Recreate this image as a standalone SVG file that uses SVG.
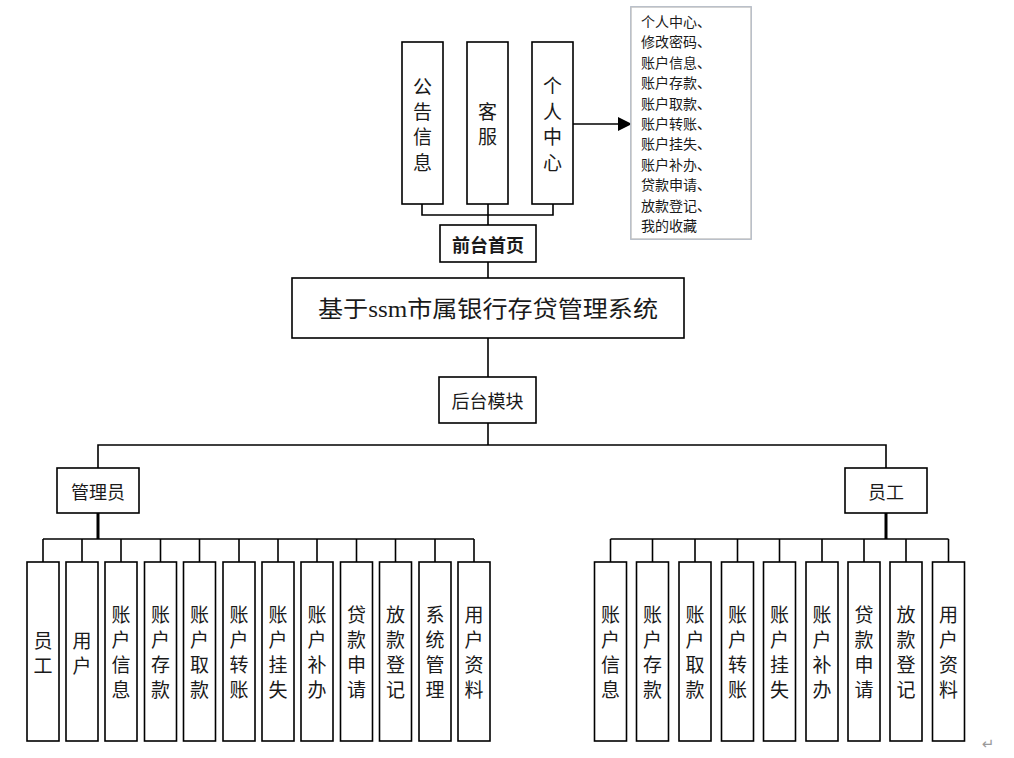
<svg xmlns="http://www.w3.org/2000/svg" width="1014" height="758" viewBox="0 0 1014 758">
<defs>
<filter id="sh" x="-20%" y="-20%" width="140%" height="140%">
<feGaussianBlur in="SourceAlpha" stdDeviation="2"/>
<feOffset dx="2" dy="2"/>
<feComponentTransfer><feFuncA type="linear" slope="0.25"/></feComponentTransfer>
<feFlood flood-color="#7f9fcf"/>
<feComposite operator="in" in2="SourceGraphic"/>
</filter>
<marker id="arr" markerWidth="14" markerHeight="14" refX="13" refY="7" orient="auto" markerUnits="userSpaceOnUse">
<path d="M0,0 L14,7 L0,14 Z" fill="#000"/>
</marker>
</defs>
<style>
.box{fill:#fff;stroke:#000;stroke-width:1.6}
.vbox{fill:#fff;stroke:#000;stroke-width:1.6}
.ln{fill:none;stroke:#000;stroke-width:1.6}
.thick{fill:none;stroke:#000;stroke-width:3}
.t{font-family:"Noto Sans CJK SC","Noto Sans",sans-serif;fill:#1a1a1a;text-anchor:middle;dominant-baseline:central}
.v{font-size:19px}
.h{font-size:18px}
.note{font-family:"Noto Sans CJK SC","Noto Sans",sans-serif;font-size:14px;fill:#1a1a1a}
</style>
<rect width="1014" height="758" fill="#fff"/>

<g id="connectors">
<polyline class="ln" points="422,204 422,215 553,215 553,204"/>
<line class="ln" x1="488" y1="204" x2="488" y2="225"/>
<line class="ln" x1="488" y1="262" x2="488" y2="278"/>
<line class="ln" x1="488" y1="338" x2="488" y2="377"/>
<line class="ln" x1="488" y1="423" x2="488" y2="445"/>
<polyline class="ln" points="98,468 98,445 886,445 886,468"/>
<line class="ln" x1="573" y1="124" x2="631" y2="124" marker-end="url(#arr)" stroke-width="2"/>
<line class="thick" x1="98" y1="513" x2="98" y2="539"/>
<line class="ln" x1="43" y1="539" x2="474" y2="539" stroke-width="2"/>
<g class="ln">
<line x1="43" y1="539" x2="43" y2="562"/><line x1="82" y1="539" x2="82" y2="562"/><line x1="121" y1="539" x2="121" y2="562"/><line x1="160.5" y1="539" x2="160.5" y2="562"/><line x1="199.5" y1="539" x2="199.5" y2="562"/><line x1="239" y1="539" x2="239" y2="562"/><line x1="278" y1="539" x2="278" y2="562"/><line x1="317" y1="539" x2="317" y2="562"/><line x1="356.5" y1="539" x2="356.5" y2="562"/><line x1="395.5" y1="539" x2="395.5" y2="562"/><line x1="435" y1="539" x2="435" y2="562"/><line x1="474" y1="539" x2="474" y2="562"/>
</g>
<line class="thick" x1="886" y1="513" x2="886" y2="539"/>
<line class="ln" x1="610.5" y1="539" x2="948.5" y2="539" stroke-width="2"/>
<g class="ln">
<line x1="610.5" y1="539" x2="610.5" y2="562"/><line x1="652.5" y1="539" x2="652.5" y2="562"/><line x1="695" y1="539" x2="695" y2="562"/><line x1="737.5" y1="539" x2="737.5" y2="562"/><line x1="779.5" y1="539" x2="779.5" y2="562"/><line x1="822" y1="539" x2="822" y2="562"/><line x1="864" y1="539" x2="864" y2="562"/><line x1="906" y1="539" x2="906" y2="562"/><line x1="948.5" y1="539" x2="948.5" y2="562"/>
</g>
</g>

<g id="n-gonggao"><rect class="vbox" x="402" y="42" width="41" height="162"/>
<text class="t v"><tspan x="422.5" y="85">公</tspan><tspan x="422.5" y="110">告</tspan><tspan x="422.5" y="135">信</tspan><tspan x="422.5" y="161">息</tspan></text></g>
<g id="n-kefu"><rect class="vbox" x="467" y="42" width="41" height="162"/>
<text class="t v"><tspan x="487.5" y="110">客</tspan><tspan x="487.5" y="135">服</tspan></text></g>
<g id="n-geren"><rect class="vbox" x="532" y="42" width="41" height="162"/>
<text class="t v"><tspan x="552.5" y="84">个</tspan><tspan x="552.5" y="110">人</tspan><tspan x="552.5" y="135">中</tspan><tspan x="552.5" y="161">心</tspan></text></g>

<g id="n-note"><rect x="631" y="7" width="120" height="232" fill="#fff" stroke="#c4c4c4" stroke-width="1.5" filter="url(#sh)"/>
<rect x="631" y="7" width="120" height="232" fill="#fff" stroke="#c4c4c4" stroke-width="1.5"/>
<text class="note" dominant-baseline="central">
<tspan x="641" y="21">个人中心、</tspan><tspan x="641" y="41.4">修改密码、</tspan><tspan x="641" y="61.8">账户信息、</tspan><tspan x="641" y="82.2">账户存款、</tspan><tspan x="641" y="102.6">账户取款、</tspan><tspan x="641" y="123">账户转账、</tspan><tspan x="641" y="143.4">账户挂失、</tspan><tspan x="641" y="163.8">账户补办、</tspan><tspan x="641" y="184.2">贷款申请、</tspan><tspan x="641" y="204.6">放款登记、</tspan><tspan x="641" y="225">我的收藏</tspan>
</text></g>

<g id="n-qiantai"><rect class="box" x="440" y="225" width="96" height="37"/>
<text class="t" x="488" y="243.5" font-size="18" font-weight="bold">前台首页</text></g>

<g id="n-title"><rect class="box" x="292" y="278" width="392" height="60"/>
<text class="t" x="488" y="309" font-size="23" textLength="340" lengthAdjust="spacingAndGlyphs" style="font-family:'Liberation Serif','Noto Sans CJK SC',serif">基于ssm市属银行存贷管理系统</text></g>

<g id="n-houtai"><rect class="box" x="439" y="377" width="97" height="46"/>
<text class="t h" x="487.5" y="400">后台模块</text></g>

<g id="n-admin"><rect class="box" x="57" y="468" width="82" height="45"/>
<text class="t h" x="98" y="490.5">管理员</text></g>
<g id="n-staff"><rect class="box" x="845" y="468" width="82" height="45"/>
<text class="t h" x="886" y="490.5">员工</text></g>

<g id="admin-children">
<g id="a1"><rect class="vbox" x="27" y="562" width="32" height="179"/><text class="t v"><tspan x="43" y="638.5">员</tspan><tspan x="43" y="664">工</tspan></text></g>
<g id="a2"><rect class="vbox" x="66" y="562" width="32" height="179"/><text class="t v"><tspan x="82" y="638.5">用</tspan><tspan x="82" y="664">户</tspan></text></g>
<g id="a3"><rect class="vbox" x="105" y="562" width="32" height="179"/><text class="t v"><tspan x="121" y="613">账</tspan><tspan x="121" y="638">户</tspan><tspan x="121" y="663">信</tspan><tspan x="121" y="688">息</tspan></text></g>
<g id="a4"><rect class="vbox" x="144.5" y="562" width="32" height="179"/><text class="t v"><tspan x="160.5" y="613">账</tspan><tspan x="160.5" y="638">户</tspan><tspan x="160.5" y="663">存</tspan><tspan x="160.5" y="688">款</tspan></text></g>
<g id="a5"><rect class="vbox" x="183.5" y="562" width="32" height="179"/><text class="t v"><tspan x="199.5" y="613">账</tspan><tspan x="199.5" y="638">户</tspan><tspan x="199.5" y="663">取</tspan><tspan x="199.5" y="688">款</tspan></text></g>
<g id="a6"><rect class="vbox" x="223" y="562" width="32" height="179"/><text class="t v"><tspan x="239" y="613">账</tspan><tspan x="239" y="638">户</tspan><tspan x="239" y="663">转</tspan><tspan x="239" y="688">账</tspan></text></g>
<g id="a7"><rect class="vbox" x="262" y="562" width="32" height="179"/><text class="t v"><tspan x="278" y="613">账</tspan><tspan x="278" y="638">户</tspan><tspan x="278" y="663">挂</tspan><tspan x="278" y="688">失</tspan></text></g>
<g id="a8"><rect class="vbox" x="301" y="562" width="32" height="179"/><text class="t v"><tspan x="317" y="613">账</tspan><tspan x="317" y="638">户</tspan><tspan x="317" y="663">补</tspan><tspan x="317" y="688">办</tspan></text></g>
<g id="a9"><rect class="vbox" x="340.5" y="562" width="32" height="179"/><text class="t v"><tspan x="356.5" y="613">贷</tspan><tspan x="356.5" y="638">款</tspan><tspan x="356.5" y="663">申</tspan><tspan x="356.5" y="688">请</tspan></text></g>
<g id="a10"><rect class="vbox" x="379.5" y="562" width="32" height="179"/><text class="t v"><tspan x="395.5" y="613">放</tspan><tspan x="395.5" y="638">款</tspan><tspan x="395.5" y="663">登</tspan><tspan x="395.5" y="688">记</tspan></text></g>
<g id="a11"><rect class="vbox" x="419" y="562" width="32" height="179"/><text class="t v"><tspan x="435" y="613">系</tspan><tspan x="435" y="638">统</tspan><tspan x="435" y="663">管</tspan><tspan x="435" y="688">理</tspan></text></g>
<g id="a12"><rect class="vbox" x="458" y="562" width="32" height="179"/><text class="t v"><tspan x="474" y="613">用</tspan><tspan x="474" y="638">户</tspan><tspan x="474" y="663">资</tspan><tspan x="474" y="688">料</tspan></text></g>
</g>

<g id="staff-children">
<g id="s1"><rect class="vbox" x="594.5" y="562" width="32" height="179"/><text class="t v"><tspan x="610.5" y="613">账</tspan><tspan x="610.5" y="638">户</tspan><tspan x="610.5" y="663">信</tspan><tspan x="610.5" y="688">息</tspan></text></g>
<g id="s2"><rect class="vbox" x="636.5" y="562" width="32" height="179"/><text class="t v"><tspan x="652.5" y="613">账</tspan><tspan x="652.5" y="638">户</tspan><tspan x="652.5" y="663">存</tspan><tspan x="652.5" y="688">款</tspan></text></g>
<g id="s3"><rect class="vbox" x="679" y="562" width="32" height="179"/><text class="t v"><tspan x="695" y="613">账</tspan><tspan x="695" y="638">户</tspan><tspan x="695" y="663">取</tspan><tspan x="695" y="688">款</tspan></text></g>
<g id="s4"><rect class="vbox" x="721.5" y="562" width="32" height="179"/><text class="t v"><tspan x="737.5" y="613">账</tspan><tspan x="737.5" y="638">户</tspan><tspan x="737.5" y="663">转</tspan><tspan x="737.5" y="688">账</tspan></text></g>
<g id="s5"><rect class="vbox" x="763.5" y="562" width="32" height="179"/><text class="t v"><tspan x="779.5" y="613">账</tspan><tspan x="779.5" y="638">户</tspan><tspan x="779.5" y="663">挂</tspan><tspan x="779.5" y="688">失</tspan></text></g>
<g id="s6"><rect class="vbox" x="806" y="562" width="32" height="179"/><text class="t v"><tspan x="822" y="613">账</tspan><tspan x="822" y="638">户</tspan><tspan x="822" y="663">补</tspan><tspan x="822" y="688">办</tspan></text></g>
<g id="s7"><rect class="vbox" x="848" y="562" width="32" height="179"/><text class="t v"><tspan x="864" y="613">贷</tspan><tspan x="864" y="638">款</tspan><tspan x="864" y="663">申</tspan><tspan x="864" y="688">请</tspan></text></g>
<g id="s8"><rect class="vbox" x="890" y="562" width="32" height="179"/><text class="t v"><tspan x="906" y="613">放</tspan><tspan x="906" y="638">款</tspan><tspan x="906" y="663">登</tspan><tspan x="906" y="688">记</tspan></text></g>
<g id="s9"><rect class="vbox" x="932.5" y="562" width="32" height="179"/><text class="t v"><tspan x="948.5" y="613">用</tspan><tspan x="948.5" y="638">户</tspan><tspan x="948.5" y="663">资</tspan><tspan x="948.5" y="688">料</tspan></text></g>
</g>

<text x="988" y="744" font-family="DejaVu Sans,sans-serif" font-size="15" fill="#9a9a9a" text-anchor="middle" dominant-baseline="central">↵</text>
</svg>
